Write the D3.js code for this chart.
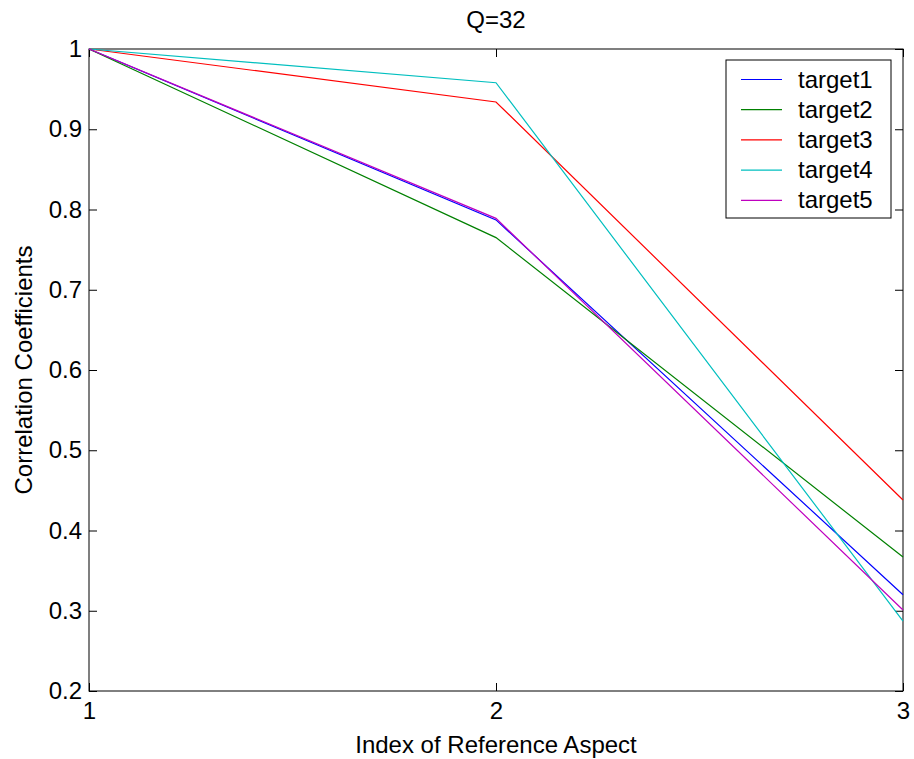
<!DOCTYPE html>
<html>
<head>
<meta charset="utf-8">
<script src="https://cdn.jsdelivr.net/npm/d3@7"></script>
<style>
  body { margin: 0; background: #fff; }
  text { font-family: "Liberation Sans", Arial, sans-serif; fill: #000; }
</style>
</head>
<body>
<svg id="chart" width="914" height="759"></svg>
<script>
const xValues = [1, 2, 3];
const seriesNames = ["target1", "target2", "target3", "target4", "target5"];
const seriesColors = ["#0000ff", "#008000", "#ff0000", "#00bfbf", "#bf00bf"];
const target1 = [1, 0.787, 0.320];
const target2 = [1, 0.765, 0.367];
const target3 = [1, 0.934, 0.438];
const target4 = [1, 0.958, 0.287];
const target5 = [1, 0.789, 0.301];
const yTicks = [0.2, 0.3, 0.4, 0.5, 0.6, 0.7, 0.8, 0.9, 1];
const xTicks = [1, 2, 3];

const series = [target1, target2, target3, target4, target5];

const margin = {left: 89, right: 11, top: 49, bottom: 68};
const width = 914, height = 759;
const fontSize = "24px";

const svg = d3.select("#chart");

const x = d3.scaleLinear().domain([1, 3]).range([margin.left, width - margin.right]);
const y = d3.scaleLinear().domain([0.2, 1]).range([height - margin.bottom, margin.top]);

// axes, ticks pointing inward on all four sides
const tickLen = 8;
svg.append("g")
    .attr("transform", "translate(0," + (height - margin.bottom) + ")")
    .call(d3.axisBottom(x).tickValues(xTicks).tickFormat(d3.format("d")).tickSizeInner(-tickLen).tickSizeOuter(0).tickPadding(11));
svg.append("g")
    .attr("transform", "translate(0," + margin.top + ")")
    .call(d3.axisTop(x).tickValues(xTicks).tickFormat("").tickSizeInner(-tickLen).tickSizeOuter(0));
svg.append("g")
    .attr("transform", "translate(" + margin.left + ",0)")
    .call(d3.axisLeft(y).tickValues(yTicks).tickFormat(d3.format("")).tickSizeInner(-tickLen).tickSizeOuter(0).tickPadding(7));
svg.append("g")
    .attr("transform", "translate(" + (width - margin.right) + ",0)")
    .call(d3.axisRight(y).tickValues(yTicks).tickFormat("").tickSizeInner(-tickLen).tickSizeOuter(0));

svg.selectAll(".domain").remove();
svg.selectAll(".tick line").attr("stroke", "#000");
svg.selectAll("g").attr("font-family", null).attr("font-size", null);
svg.selectAll(".tick text").style("font-size", fontSize);

// box
svg.append("rect")
    .attr("x", margin.left).attr("y", margin.top)
    .attr("width", width - margin.left - margin.right)
    .attr("height", height - margin.top - margin.bottom)
    .attr("fill", "none").attr("stroke", "#000").attr("stroke-width", 1);

// lines
const line = d3.line()
    .x(function (d, i) { return x(xValues[i]) })
    .y(function (d) { return y(d) });

svg.append("g")
  .selectAll("path")
  .data(series)
  .join("path")
    .attr("d", line)
    .attr("fill", "none")
    .attr("stroke", function (d, i) { return seriesColors[i] })
    .attr("stroke-width", 1.2);

// title and labels
svg.append("text")
    .attr("x", (margin.left + width - margin.right) / 2).attr("y", 28)
    .attr("text-anchor", "middle").style("font-size", fontSize)
    .text("Q=32");
svg.append("text")
    .attr("x", (margin.left + width - margin.right) / 2).attr("y", 753)
    .attr("text-anchor", "middle").style("font-size", fontSize)
    .text("Index of Reference Aspect");
svg.append("text")
    .attr("transform", "translate(32,370) rotate(-90)")
    .attr("text-anchor", "middle").style("font-size", fontSize)
    .text("Correlation Coefficients");

// legend
const legend = svg.append("g").attr("transform", "translate(726,60)");
legend.append("rect")
    .attr("width", 165).attr("height", 158)
    .attr("fill", "#fff").attr("stroke", "#000");
const rows = legend.selectAll("g")
  .data(seriesNames.map(function (name, i) { return {name: name, color: seriesColors[i]} }))
  .join("g")
    .attr("transform", function (d, i) { return "translate(0," + (19.5 + i * 30.2) + ")" });
rows.append("line")
    .attr("x1", 15).attr("x2", 56)
    .attr("stroke", function (d) { return d.color })
    .attr("stroke-width", 1.2);
rows.append("text")
    .attr("x", 72).attr("y", 8)
    .style("font-size", fontSize)
    .text(function (d) { return d.name });
</script>
</body>
</html>
